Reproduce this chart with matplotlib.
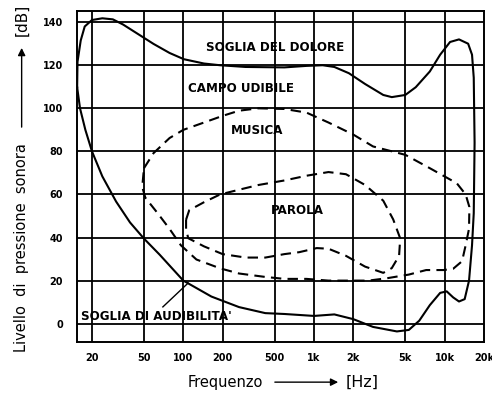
import matplotlib
matplotlib.use("Agg")
import matplotlib.pyplot as plt
from matplotlib.patches import FancyArrowPatch

plt.rcParams['font.family'] = 'DejaVu Sans'

# griglia e assi
freq_ticks = [20, 50, 100, 200, 500, 1000, 2000, 5000, 10000, 20000]
freq_labels = ["20", "50", "100", "200", "500", "1k", "2k", "5k", "10k", "20k"]
db_ticks = [0, 20, 40, 60, 80, 100, 120, 140]

# campo udibile: soglia del dolore (sopra) + soglia di audibilita' (sotto), curva chiusa
campo_hz = [15.4, 15.5, 16.4, 17.6, 20, 24, 28.9, 34.6, 44.2, 59.2,
            78.5, 101, 143.9, 191, 300, 594, 877, 1166, 1432, 1850,
            2460, 3390, 3940, 5000, 6010, 7700, 9240, 11000, 12880, 15130,
            16200, 16700, 16950, 16700, 16200, 15370, 14230, 12880, 11620, 10370,
            9240, 7700, 6395, 5320, 4310, 2830, 2000, 1432, 1000, 594,
            424, 267, 164, 100, 66, 50, 39.1, 30.6, 24, 20,
            17.8, 16.2, 15.4]
campo_db = [109.8, 121.6, 131.5, 138, 141, 141.8, 141.3, 138.9, 134.8, 129.9,
            125.7, 122.8, 120.8, 120, 119.2, 119, 119.7, 120, 119.2, 116.3,
            111.3, 106.2, 105.2, 106.2, 109.8, 117.1, 124.9, 130.8, 132, 130,
            124.9, 114.2, 84, 51.3, 36.4, 20, 11.4, 10.3, 12.2, 15,
            14.3, 8.6, 1.4, -2.9, -3.6, -1.5, 2.1, 4.3, 3.6, 4.5,
            4.9, 7.7, 12.6, 20, 32, 39.5, 47, 56.7, 68.4, 80,
            90, 100, 109.8]

# musica
musica_hz = [50, 59.2, 78.5, 100, 143.9, 200, 267, 376, 594, 877,
             1291, 2000, 2830, 5000, 7700, 12390, 14480, 15460, 15370, 14480,
             13590, 11620, 9800, 7220, 5320, 3620, 2610, 1850, 1291, 877,
             594, 424, 267, 191, 126, 95.8, 78.5, 63.6, 51.2, 48.5,
             50]
musica_db = [72.2, 79.2, 86.2, 90, 93.4, 96.5, 98.9, 100, 99.7, 98,
             93.4, 87.8, 82.3, 78.4, 72.2, 65.2, 60, 54.2, 44.1, 36.4,
             29, 25.5, 24.9, 24.9, 22.8, 21.1, 20, 20, 20, 20.8,
             20.8, 21.7, 23.3, 25.7, 29.8, 36.4, 44, 51.3, 58.5, 63.5,
             72.2]

# parola
parola_hz = [105, 111, 144, 191, 267, 376, 594, 877, 1291, 1757,
             2460, 3390, 4040, 4570, 4480, 3940, 3390, 2460, 1757, 1291,
             1050, 771, 594, 424, 300, 200, 144, 109, 105, 105]
parola_db = [48.3, 52.7, 56.4, 60, 62.2, 64.4, 66.5, 68.7, 70.4, 69.4,
             64.4, 57.1, 48.4, 39.6, 31.5, 25.8, 23.6, 26.5, 31.5, 34.8,
             35.1, 33.2, 32.3, 30.7, 30.7, 32.3, 35.9, 39.7, 44, 48.3]

fig = plt.figure(figsize=(4.92, 3.96), dpi=100)
ax = fig.add_axes([0.1565, 0.1364, 0.8272, 0.8359])
ax.set_xscale('log')
ax.set_xlim(15.36, 20000)
ax.set_ylim(-8.5, 145.2)

for f in freq_ticks[:-1]:
    ax.axvline(f, color='black', lw=1.3, zorder=1)
for d in db_ticks:
    ax.axhline(d, color='black', lw=1.3, zorder=1)
for s in ax.spines.values():
    s.set_linewidth(1.4)

ax.set_xticks(freq_ticks)
ax.set_xticklabels(freq_labels)
ax.xaxis.set_minor_locator(matplotlib.ticker.NullLocator())
ax.set_yticks(db_ticks)
ax.tick_params(axis='both', length=0, labelsize=7)
ax.tick_params(axis='x', pad=8)
ax.tick_params(axis='y', pad=10)
for lab in ax.get_xticklabels() + ax.get_yticklabels():
    lab.set_fontweight('bold')

ax.plot(campo_hz, campo_db, color='black', lw=1.5, solid_joinstyle='round', zorder=3)
ax.plot(musica_hz, musica_db, color='black', lw=1.5, dashes=(5, 3), zorder=3)
ax.plot(parola_hz, parola_db, color='black', lw=1.5, dashes=(5, 3), zorder=3)

tk = dict(transform=ax.transAxes, ha='center', va='center', fontsize=8.6, fontweight='bold')
ax.text(0.488, 0.891, "SOGLIA DEL DOLORE", **tk)
ax.text(0.403, 0.767, "CAMPO UDIBILE", **tk)
ax.text(0.442, 0.640, "MUSICA", **tk)
ax.text(0.541, 0.396, "PAROLA", **tk)
ax.text(0.195, 0.0755, "SOGLIA DI AUDIBILITA'", **tk)
ax.plot([0.211, 0.273], [0.106, 0.178], transform=ax.transAxes, color='black', lw=1.0)

# etichette degli assi con freccia
fig.text(0.044, 0.376, "Livello  di  pressione  sonora", rotation=90,
         ha='center', va='center', fontsize=10.5)
fig.text(0.044, 0.951, "[dB]", rotation=90, ha='center', va='center', fontsize=11)
fig.patches.append(FancyArrowPatch(
    (0.044, 0.672), (0.044, 0.886), transform=fig.transFigure,
    arrowstyle='-|>', mutation_scale=11, color='black', lw=1.0))

fig.text(0.457, 0.035, "Frequenzo", ha='center', va='center', fontsize=10.5)
fig.text(0.736, 0.035, "[Hz]", ha='center', va='center', fontsize=11.5)
fig.patches.append(FancyArrowPatch(
    (0.553, 0.035), (0.693, 0.035), transform=fig.transFigure,
    arrowstyle='-|>', mutation_scale=11, color='black', lw=1.0))

fig.savefig("out.png", dpi=100)
